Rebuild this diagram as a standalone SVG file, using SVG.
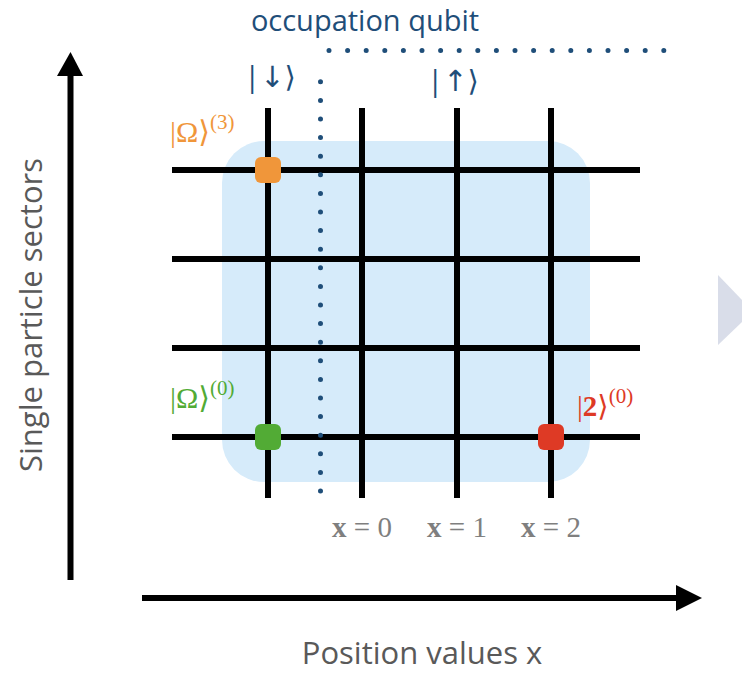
<svg xmlns="http://www.w3.org/2000/svg" width="742" height="674" viewBox="0 0 742 674">
<style>
.grid{stroke:#000;stroke-width:6;fill:none}
.dots{stroke:#1f4e79;stroke-width:5;stroke-linecap:round;stroke-dasharray:0 18.6;fill:none}
.axis{stroke:#000;stroke-width:6;fill:none}
.lab{font-family:"Open Sans","DejaVu Sans",sans-serif;fill:#595959;font-size:31px}
.q{font-family:"Open Sans","DejaVu Sans",sans-serif;fill:#1f4e79}
.m{font-family:"Liberation Serif","DejaVu Serif",serif}
.xl{font-family:"Liberation Serif","DejaVu Serif",serif;fill:#7f7f7f;font-size:29px}
</style>
<rect x="0" y="0" width="742" height="674" fill="#fff"/>
<polygon points="718,275 742,300 742,322 718,345" fill="#d9dde9"/>
<rect id="region" x="222" y="141" width="368" height="341" rx="42" fill="#d6ebfa"/>
<g id="connectors">
<line class="axis" x1="70.5" y1="580" x2="70.5" y2="72"/>
<polygon points="57,76 83,76 70.5,52" fill="#000"/>
<line class="axis" x1="142" y1="598" x2="680" y2="598"/>
<polygon points="676,585 676,611 702,598" fill="#000"/>
<g id="grid">
<line class="grid" x1="268" y1="108" x2="268" y2="498"/>
<line class="grid" x1="362" y1="108" x2="362" y2="498"/>
<line class="grid" x1="457" y1="108" x2="457" y2="498"/>
<line class="grid" x1="551" y1="108" x2="551" y2="498"/>
<line class="grid" x1="172" y1="170" x2="640" y2="170"/>
<line class="grid" x1="172" y1="259" x2="640" y2="259"/>
<line class="grid" x1="172" y1="348" x2="640" y2="348"/>
<line class="grid" x1="172" y1="437" x2="640" y2="437"/>
</g>
<path class="dots" d="M320.5,491 L320.5,64"/>
<path class="dots" d="M329,50.5 L667,50.5"/>
</g>
<g id="node-omega3">
<rect x="255" y="157" width="26" height="26" rx="6" fill="#f0963a"/>
<text x="170" y="142" class="m" font-size="30" fill="#f0963a">|Ω⟩<tspan font-size="21" dy="-13">(3)</tspan></text>
</g>
<g id="node-omega0">
<rect x="255" y="424" width="26" height="26" rx="6" fill="#52ab35"/>
<text x="170" y="408" class="m" font-size="30" fill="#52ab35">|Ω⟩<tspan font-size="21" dy="-13">(0)</tspan></text>
</g>
<g id="node-two0">
<rect x="538" y="424" width="26" height="26" rx="6" fill="#de3a25"/>
<text x="577" y="416" class="m" font-size="29" fill="#de3a25">|<tspan font-weight="bold">2</tspan>⟩<tspan font-size="21" dy="-13">(0)</tspan></text>
</g>
<text x="365" y="31" class="q" font-size="29" text-anchor="middle">occupation qubit</text>
<text x="270" y="87" class="q" font-size="29" text-anchor="middle">|↓⟩</text>
<text x="453" y="91" class="q" font-size="29" text-anchor="middle">|↑⟩</text>
<text x="362" y="537" class="xl" text-anchor="middle"><tspan font-weight="bold">x</tspan> = 0</text>
<text x="457" y="537" class="xl" text-anchor="middle"><tspan font-weight="bold">x</tspan> = 1</text>
<text x="551" y="537" class="xl" text-anchor="middle"><tspan font-weight="bold">x</tspan> = 2</text>
<text x="422" y="664" class="lab" text-anchor="middle">Position values x</text>
<text transform="translate(42,315) rotate(-90)" class="lab" text-anchor="middle">Single particle sectors</text>
</svg>
